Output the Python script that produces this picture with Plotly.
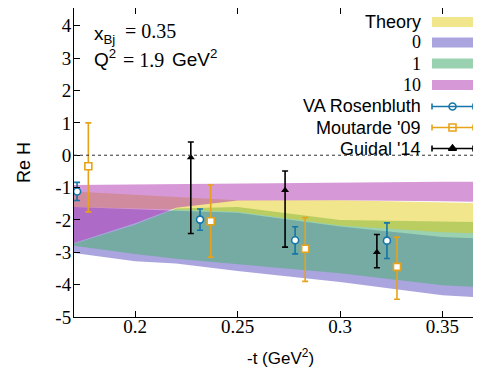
import plotly.graph_objects as go

# ---------------- data ----------------
t_band = [0.17, 0.20, 0.22, 0.25, 0.30, 0.35, 0.37]

theory_up = [-1.12, -1.22, -1.30, -1.39, -1.39, -1.46, -1.48]
theory_lo = [-1.60, -1.65, -1.68, -1.75, -2.17, -2.38, -2.42]

d0_up = [-1.60, -1.68, -1.72, -1.78, -2.20, -2.53, -2.58]
d0_lo = [-3.02, -3.28, -3.35, -3.58, -3.92, -4.33, -4.40]

d1_up = [-2.74, -2.15, -1.65, -1.60, -2.00, -2.06, -2.07]
d1_lo = [-2.80, -3.05, -3.20, -3.38, -3.65, -4.02, -4.08]

d10_up = [-0.92, -0.90, -0.89, -0.88, -0.84, -0.82, -0.82]
d10_lo = [-2.72, -2.10, -1.62, -1.40, -1.39, -1.42, -1.44]

va_t = [0.1717, 0.2317, 0.2781, 0.3229]
va_re = [-1.12, -1.99, -2.63, -2.64]
va_err = [0.28, 0.33, 0.42, 0.55]

mout_t = [0.1772, 0.2369, 0.2830, 0.3278]
mout_re = [-0.34, -2.04, -2.89, -3.45]
mout_up = [1.34, 1.12, 0.96, 0.92]
mout_dn = [1.41, 1.11, 1.01, 1.00]

guid_t = [0.2272, 0.2732, 0.3180]
guid_re = [-0.07, -1.08, -3.00]
guid_up = [0.48, 0.59, 0.55]
guid_dn = [2.35, 1.76, 0.48]

x_ticks = [0.2, 0.25, 0.3, 0.35]
x_ticktext = ["0.2", "0.25", "0.3", "0.35"]
y_ticks = [-5, -4, -3, -2, -1, 0, 1, 2, 3, 4]
y_ticktext = ["-5", "-4", "-3", "-2", "-1", "0", "1", "2", "3", "4"]

band_labels = ["Theory", "0", "1", "10"]
point_labels = ["VA Rosenbluth", "Moutarde '09", "Guidal '14"]

# ---------------- styles ----------------
C_PURPLE = "rgba(85,75,190,0.50)"
C_GREEN = "rgba(80,175,120,0.58)"
C_YELLOW = "rgba(225,200,0,0.45)"
C_MAGENTA = "rgba(175,50,175,0.50)"
C_BLUE = "#1576A8"
C_ORANGE = "#E6A31A"
C_BLACK = "#000000"
SERIF = "Times New Roman"
SANS = "Liberation Sans"

# page body has an 8px default margin: work in window pixels, offset by OFF
OFF = 8
WIN_W, WIN_H = 481, 369
W, H = WIN_W - OFF, WIN_H - OFF
PLOT_L, PLOT_T, PLOT_B = 74, 8, 317          # window pixels
ML, MR, MT, MB = PLOT_L - OFF, 0, PLOT_T - OFF, WIN_H - PLOT_B

fig = go.Figure()


def band(lo, up, color):
    fig.add_trace(go.Scatter(
        x=t_band + t_band[::-1], y=up + lo[::-1], fill="toself",
        fillcolor=color, line=dict(width=0), mode="lines",
        hoverinfo="skip", showlegend=False))


band(d0_lo, d0_up, C_PURPLE)
band(d1_lo, d1_up, C_GREEN)
band(theory_lo, theory_up, C_YELLOW)
band(d10_lo, d10_up, C_MAGENTA)

fig.add_trace(go.Scatter(
    x=va_t, y=va_re, mode="markers",
    marker=dict(symbol="circle", size=7, color="white", line=dict(color=C_BLUE, width=1.6)),
    error_y=dict(type="data", array=va_err, color=C_BLUE, thickness=1.6, width=3),
    showlegend=False))
fig.add_trace(go.Scatter(
    x=mout_t, y=mout_re, mode="markers",
    marker=dict(symbol="square", size=7, color="white", line=dict(color=C_ORANGE, width=1.6)),
    error_y=dict(type="data", symmetric=False, array=mout_up, arrayminus=mout_dn,
                 color=C_ORANGE, thickness=1.6, width=3),
    showlegend=False))
fig.add_trace(go.Scatter(
    x=guid_t, y=guid_re, mode="markers",
    marker=dict(symbol="triangle-up", size=7, color=C_BLACK),
    error_y=dict(type="data", symmetric=False, array=guid_up, arrayminus=guid_dn,
                 color=C_BLACK, thickness=1.6, width=3),
    showlegend=False))

# zero line
fig.add_shape(type="line", xref="paper", x0=0, x1=1, yref="y", y0=0, y1=0,
              line=dict(color="#333", width=1, dash="dot"), layer="above")

# ---------------- legend (built by hand: text right, swatch left) ----------------
PW = W - ML - MR
PH = H - MT - MB


def px(x):
    return (x - PLOT_L) / PW


def py(y):
    return 1 - (y - PLOT_T) / PH


def text_at(x, y, txt, fam, size, anchor="left"):
    fig.add_annotation(x=px(x), y=py(y), xref="paper", yref="paper", showarrow=False,
                       xanchor=anchor, yanchor="middle", text=txt,
                       font=dict(family=fam, size=size, color="black"))


leg_text_x = 423
sw_x0, sw_x1 = 432, 473
rows_band = [22, 42.5, 63.5, 85]
rows_pts = [106.5, 127.5, 148.5]
band_colors = [C_YELLOW, C_PURPLE, C_GREEN, C_MAGENTA]
band_fonts = [SANS, SERIF, SERIF, SERIF]

for lab, yy, col, fnt in zip(band_labels, rows_band, band_colors, band_fonts):
    text_at(leg_text_x, yy, lab, fnt, 18, "right")
    fig.add_shape(type="rect", xref="paper", yref="paper",
                  x0=px(sw_x0), x1=px(sw_x1), y0=py(yy - 5), y1=py(yy + 5),
                  fillcolor=col, line=dict(width=0))

pt_colors = [C_BLUE, C_ORANGE, C_BLACK]
pt_symbols = ["circle", "square", "triangle-up"]
for lab, yy, col, sym in zip(point_labels, rows_pts, pt_colors, pt_symbols):
    text_at(leg_text_x, yy, lab, SANS, 18, "right")
    fig.add_shape(type="line", xref="paper", yref="paper",
                  x0=px(sw_x0), x1=px(sw_x1), y0=py(yy), y1=py(yy),
                  line=dict(color=col, width=1.6))
    for xx in (sw_x0, sw_x1):
        fig.add_shape(type="line", xref="paper", yref="paper",
                      x0=px(xx), x1=px(xx), y0=py(yy - 3), y1=py(yy + 3),
                      line=dict(color=col, width=1.6))
    fig.add_trace(go.Scatter(
        x=[px((sw_x0 + sw_x1) / 2)], y=[py(yy)], xaxis="x2", yaxis="y2", mode="markers",
        marker=dict(symbol=sym, size=7,
                    color="white" if sym != "triangle-up" else col,
                    line=dict(color=col, width=1.6)),
        showlegend=False, hoverinfo="skip"))

# kinematics annotation (sans symbols, serif numbers)
text_at(92, 35, "x<sub>Bj</sub>", SANS, 19)
text_at(123, 31, "= 0.35", SERIF, 20)
text_at(92, 58, "Q<sup>2</sup>", SANS, 19)
text_at(121, 60, "= 1.9", SERIF, 20)
text_at(170, 58, "GeV<sup>2</sup>", SANS, 19)

# x-axis title as annotation (centred like the reference)
text_at(280, 357, "-t (GeV<sup>2</sup>)", SANS, 17, "center")

fig.update_layout(
    width=W, height=H, margin=dict(l=ML, r=MR, t=MT, b=MB),
    paper_bgcolor="white", plot_bgcolor="white", showlegend=False,
    xaxis=dict(range=[0.1702, 0.3688], tickvals=x_ticks, ticktext=x_ticktext,
               ticks="inside", ticklen=6, tickcolor="black", showgrid=False,
               zeroline=False, showline=True, linecolor="black", linewidth=1,
               mirror="ticks", ticklabelstandoff=-8,
               tickfont=dict(family=SERIF, size=19, color="black")),
    yaxis=dict(range=[-5, 4.55], tickvals=y_ticks, ticktext=y_ticktext,
               ticks="inside", ticklen=6, ticklabelstandoff=-2,
               tickcolor="black", showgrid=False, zeroline=False, showline=True,
               linecolor="black", linewidth=1,
               tickfont=dict(family=SERIF, size=19, color="black"),
               title=dict(text="Re H", font=dict(family=SANS, size=18, color="black"),
                          standoff=20)),
    xaxis2=dict(range=[0, 1], overlaying="x", visible=False, domain=[0, 1]),
    yaxis2=dict(range=[0, 1], overlaying="y", visible=False, domain=[0, 1]),
)

fig.write_html("out.html")
